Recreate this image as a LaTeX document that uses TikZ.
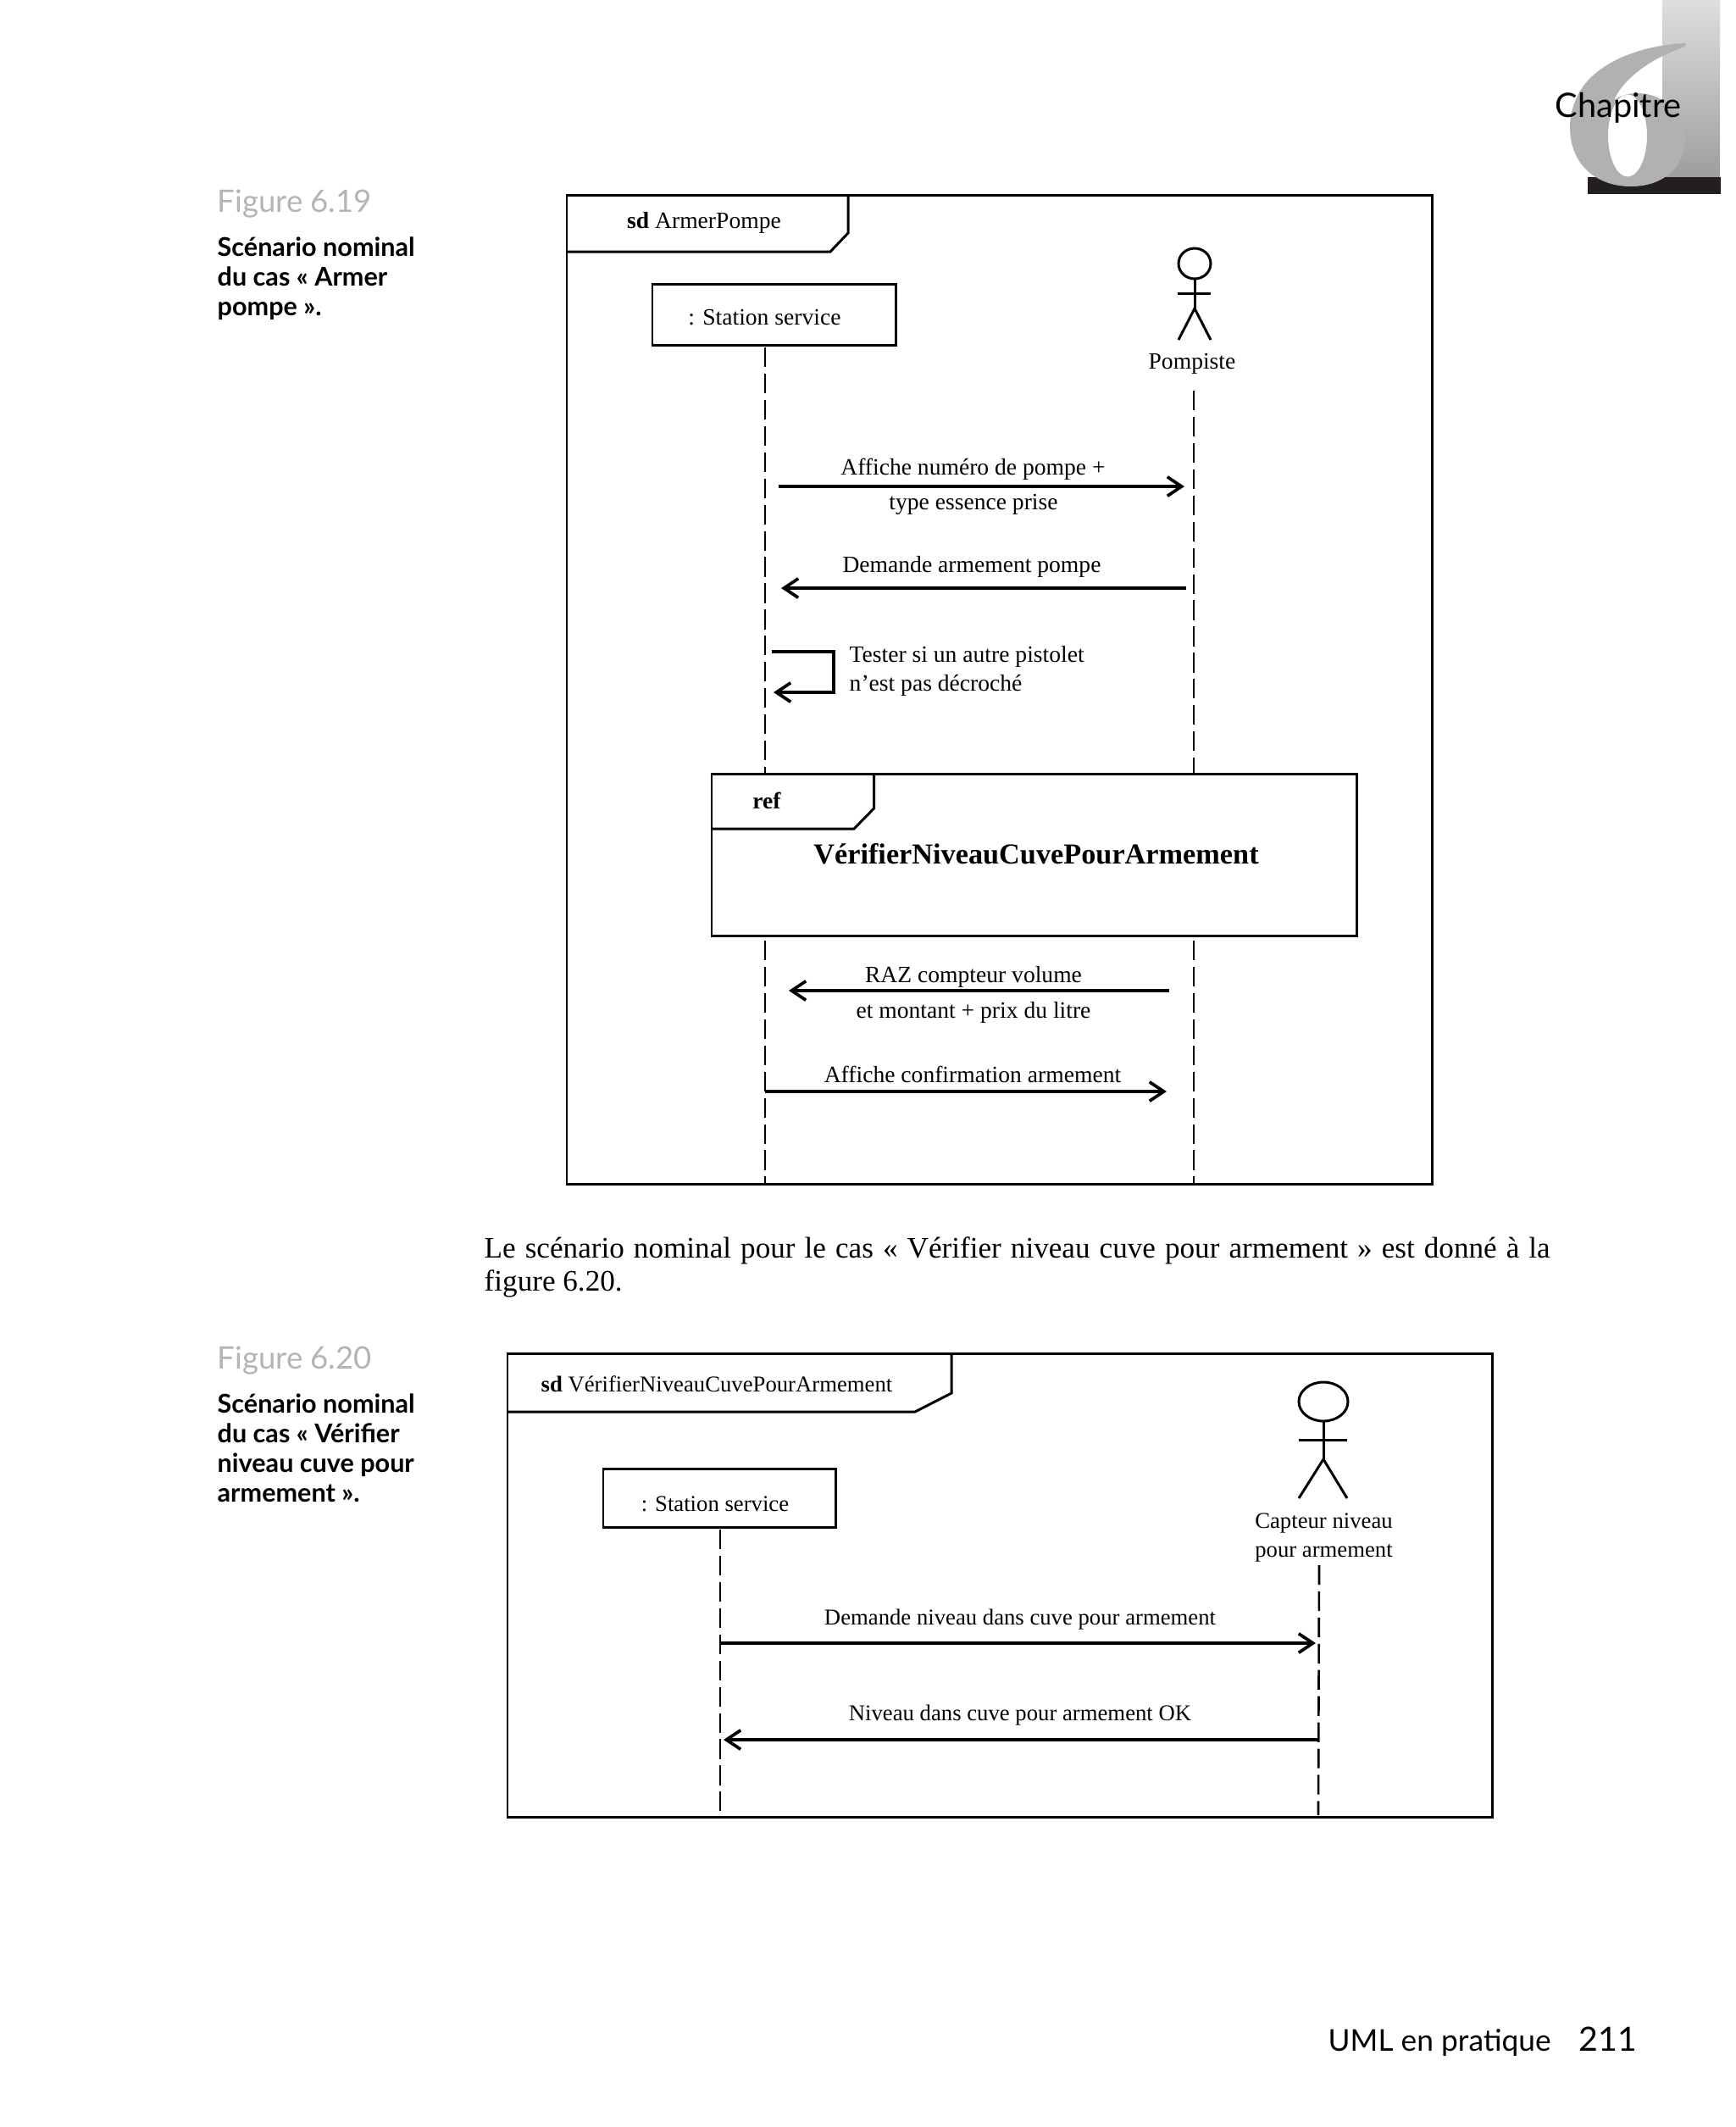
\documentclass[tikz,border=0pt]{standalone}
\usepackage{fontspec}
\setmainfont{Liberation Serif}
\newfontfamily\futura{Lato}
\usetikzlibrary{arrows.meta}
\definecolor{figgray}{HTML}{B4B4B4}
\definecolor{sixgray}{HTML}{B1B1B3}
\definecolor{bardark}{HTML}{231F20}
\tikzset{
	frame/.style={line width=0.85pt},
	lifeline/.style={line width=0.75pt, dash pattern=on 6.6pt off 2.2pt},
	msg/.style={line width=1.05pt},
	txta/.style={inner sep=0pt, yshift=-0.02cm, font=\fontsize{7.85pt}{9pt}\selectfont},
	txtb/.style={inner sep=0pt, yshift=-0.02cm, font=\fontsize{7.6pt}{9pt}\selectfont},
	figlabel/.style={inner sep=0pt, anchor=base west, text=figgray, font=\futura\fontsize{10.4pt}{12pt}\selectfont},
	figcaption/.style={inner sep=0pt, anchor=north west, align=left, font=\futura\bfseries\fontsize{8.7pt}{9.96pt}\selectfont},
}

\begin{document}
\begin{tikzpicture}[>={Straight Barb[length=4.8pt, width=6.4pt]}, line join=miter]
\useasboundingbox (0,0) rectangle (20.48,-25.10);

%========================
% Chapter mark
%========================
\fill[top color=black!13, bottom color=black!38] (19.62,0) rectangle (20.30,-2.09);
\fill[bardark] (18.74,-2.09) rectangle (20.31,-2.29);
\fill[sixgray, even odd rule]
	(19.89,-0.51) .. controls (19.45,-0.53) and (18.95,-0.68) .. (18.70,-1.00)
	.. controls (18.58,-1.16) and (18.53,-1.35) .. (18.53,-1.50)
	.. controls (18.53,-1.95) and (18.85,-2.20) .. (19.25,-2.20)
	.. controls (19.65,-2.20) and (19.89,-1.95) .. (19.89,-1.65)
	.. controls (19.89,-1.35) and (19.65,-1.10) .. (19.32,-1.10)
	.. controls (19.22,-1.10) and (19.12,-1.13) .. (19.05,-1.18)
	.. controls (19.15,-0.95) and (19.45,-0.70) .. (19.89,-0.55) -- cycle
	(19.21,-1.60) ellipse (0.23 and 0.485);
\node[inner sep=0pt, anchor=base west, font=\futura\fontsize{11.3pt}{13pt}\selectfont] (chapter) at (18.35,-1.385) {Chapitre};

%========================
% Figure 6.19
%========================
\node[figlabel] (fig19) at (2.56,-2.50) {Figure 6.19};
\node[figcaption] (cap19) at (2.56,-2.79) {Scénario nominal\\du cas « Armer\\pompe ».};

% frame
\draw[frame] (6.69,-2.30) rectangle (16.90,-13.97);
\draw[frame] (6.69,-2.97) -- (9.80,-2.97) -- (10.01,-2.75) -- (10.01,-2.30);
\node[txta] (sd19) at (8.31,-2.61) {\textbf{sd} ArmerPompe};

% station
\node[draw, frame, minimum width=2.87cm, minimum height=0.72cm] (station) at (9.135,-3.71) {};
\node[txta] (stationtxt) at (9.025,-3.73) {: Station service};

% actor
\draw[frame] (14.10,-3.11) ellipse (0.19 and 0.18);
\draw[frame] (14.10,-3.29) -- (14.10,-3.64) (13.90,-3.46) -- (14.29,-3.46);
\draw[frame] (13.91,-4.01) -- (14.10,-3.64) -- (14.29,-4.01);
\node[txta] (pompiste) at (14.07,-4.27) {Pompiste};

% lifelines
\coordinate (sa) at (9.03,-4.10);
\coordinate (sb) at (9.03,-9.12);
\coordinate (sc) at (9.03,-11.10);
\coordinate (sd) at (9.03,-13.97);
\coordinate (pa) at (14.09,-4.61);
\coordinate (pb) at (14.09,-9.12);
\coordinate (pc) at (14.09,-11.10);
\coordinate (pd) at (14.09,-13.97);
\draw[lifeline] (sa) -- (sb);
\draw[lifeline] (sc) -- (sd);
\draw[lifeline] (pa) -- (pb);
\draw[lifeline] (pc) -- (pd);

% messages
\coordinate (ma) at (9.19,-5.74);
\coordinate (mb) at (13.98,-5.74);
\draw[msg,->] (ma) -- (mb);
\node[txta] (mat) at (11.485,-5.515) {Affiche numéro de pompe +};
\node[txta] (mau) at (11.49,-5.93) {type essence prise};

\coordinate (na) at (14.00,-6.94);
\coordinate (nb) at (9.22,-6.94);
\draw[msg,->] (na) -- (nb);
\node[txta] (nat) at (11.47,-6.67) {Demande armement pompe};

\coordinate (sea) at (9.11,-7.69);
\coordinate (seb) at (9.84,-7.69);
\coordinate (sec) at (9.84,-8.17);
\coordinate (sed) at (9.13,-8.17);
\draw[msg,->] (sea) -- (seb) -- (sec) -- (sed);
\node[txta, anchor=west] (set) at (10.02,-7.73) {Tester si un autre pistolet};
\node[txta, anchor=west] (seu) at (10.02,-8.07) {n’est pas décroché};

% ref
\draw[frame] (8.40,-9.13) rectangle (16.01,-11.04);
\draw[frame] (8.40,-9.78) -- (10.08,-9.78) -- (10.315,-9.54) -- (10.315,-9.13);
\node[txta, yshift=0.02cm, font=\bfseries\fontsize{7.85pt}{9pt}\selectfont] (reflab) at (9.05,-9.45) {ref};
\node[inner sep=0pt, font=\bfseries\fontsize{9.75pt}{11pt}\selectfont] (refname) at (12.23,-10.08) {VérifierNiveauCuvePourArmement};

\coordinate (ra) at (13.80,-11.69);
\coordinate (rb) at (9.31,-11.69);
\draw[msg,->] (ra) -- (rb);
\node[txta] (rat) at (11.49,-11.51) {RAZ compteur volume};
\node[txta] (rau) at (11.49,-11.93) {et montant + prix du litre};

\coordinate (ca) at (9.03,-12.88);
\coordinate (cb) at (13.77,-12.88);
\draw[msg,->] (ca) -- (cb);
\node[txta] (cat) at (11.48,-12.66) {Affiche confirmation armement};

%========================
% Paragraph
%========================
\node[inner sep=0pt, anchor=north west, text width=12.58cm, align=justify, font=\fontsize{10pt}{11.2pt}\selectfont] (para) at (5.71,-14.59)
	{Le scénario nominal pour le cas « Vérifier niveau cuve pour armement » est donné à la\linebreak figure 6.20.};

%========================
% Figure 6.20
%========================
\node[figlabel] (fig20) at (2.56,-16.15) {Figure 6.20};
\node[figcaption] (cap20) at (2.56,-16.44) {Scénario nominal\\du cas « Vérifier\\niveau cuve pour\\armement ».};

% frame
\draw[frame] (5.99,-15.97) rectangle (17.61,-21.44);
\draw[frame] (5.99,-16.66) -- (10.80,-16.66) -- (11.23,-16.44) -- (11.23,-15.97);
\node[txtb] (sd20) at (8.46,-16.315) {\textbf{sd} VérifierNiveauCuvePourArmement};

% station
\node[draw, frame, minimum width=2.74cm, minimum height=0.695cm] (stationb) at (8.49,-17.68) {};
\node[txtb] (stationbtxt) at (8.44,-17.73) {: Station service};

% actor
\draw[frame] (15.62,-16.54) ellipse (0.29 and 0.23);
\draw[frame] (15.62,-16.77) -- (15.62,-17.22) (15.33,-16.99) -- (15.90,-16.99);
\draw[frame] (15.33,-17.68) -- (15.62,-17.22) -- (15.90,-17.68);
\node[txtb, align=center, font=\fontsize{7.6pt}{9.9pt}\selectfont] (capteur) at (15.625,-18.125) {Capteur niveau\\pour armement};

% lifelines
\coordinate (ta) at (8.50,-18.05);
\coordinate (tb) at (8.50,-21.37);
\coordinate (ua) at (15.57,-18.47);
\coordinate (ub) at (15.56,-21.42);
\draw[lifeline] (ta) -- (tb);
\draw[lifeline] (ua) -- (ub);

% messages
\coordinate (da) at (8.50,-19.39);
\coordinate (db) at (15.53,-19.39);
\draw[msg,->] (da) -- (db);
\node[txtb] (dat) at (12.04,-19.09) {Demande niveau dans cuve pour armement};

\coordinate (ea) at (15.56,-20.53);
\coordinate (eb) at (8.54,-20.53);
\draw[msg,->] (ea) -- (eb);
\node[txtb] (eat) at (12.04,-20.22) {Niveau dans cuve pour armement OK};

%========================
% Footer
%========================
\node[inner sep=0pt, anchor=base west, font=\futura\fontsize{10.05pt}{12pt}\selectfont] (footer) at (15.67,-24.20) {UML en pratique};
\node[inner sep=0pt, anchor=base west, font=\futura\fontsize{11.2pt}{13pt}\selectfont] (pagenum) at (18.63,-24.20) {211};

\end{tikzpicture}
\end{document}
